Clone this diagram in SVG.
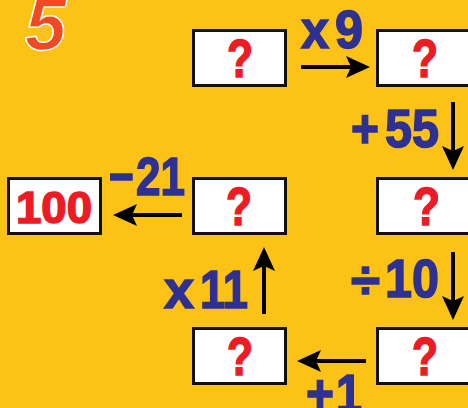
<svg xmlns="http://www.w3.org/2000/svg" width="468" height="408" viewBox="0 0 468 408">
<defs>
<style>
.box{fill:#fff;stroke:#111;stroke-width:3}
.q{font-family:"Liberation Sans",Arial,sans-serif;font-weight:bold;font-size:54px;fill:#ED1C24;stroke:#ED1C24;stroke-width:1.6}
.n{font-family:"Liberation Sans",Arial,sans-serif;font-weight:bold;font-size:45px;fill:#ED1C24;stroke:#ED1C24;stroke-width:1.6}
.op{font-family:"Liberation Sans",Arial,sans-serif;font-weight:bold;font-size:54px;fill:#2E3192;stroke:#2E3192;stroke-width:1.6}
.arr{stroke:#000;stroke-width:4;fill:none;marker-end:url(#ah)}
</style>
<marker id="ah" markerUnits="userSpaceOnUse" viewBox="0 0 24 24" markerWidth="24" markerHeight="24" refX="5" refY="12" orient="auto">
<path d="M0,1 L24,12 L0,23 L5,12 Z" fill="#000"/>
</marker>
</defs>
<rect width="468" height="408" fill="#FCC216"/>
<text x="25" y="50" font-family="Liberation Sans,Arial,sans-serif" font-weight="bold" font-style="italic" font-size="74" fill="#EF4A23" stroke="#fff" stroke-width="1.5">5</text>

<g id="box1"><rect class="box" x="193.5" y="30.5" width="92" height="55"/><text class="q" x="227" y="77" textLength="26" lengthAdjust="spacingAndGlyphs">?</text></g>
<g id="box2"><rect class="box" x="377.5" y="30.5" width="92" height="55"/><text class="q" x="412" y="77" textLength="26" lengthAdjust="spacingAndGlyphs">?</text></g>
<g id="box3"><rect class="box" x="377.5" y="178.5" width="92" height="55"/><text class="q" x="413" y="225" textLength="27" lengthAdjust="spacingAndGlyphs">?</text></g>
<g id="box4"><rect class="box" x="193.5" y="178.5" width="92" height="55"/><text class="q" x="226" y="225" textLength="26" lengthAdjust="spacingAndGlyphs">?</text></g>
<g id="box5"><rect class="box" x="8.5" y="178.5" width="92" height="55"/><text class="n" x="16" y="223" textLength="76" lengthAdjust="spacingAndGlyphs">100</text></g>
<g id="box6"><rect class="box" x="193.5" y="328.5" width="92" height="55"/><text class="q" x="227" y="375" textLength="26" lengthAdjust="spacingAndGlyphs">?</text></g>
<g id="box7"><rect class="box" x="377.5" y="328.5" width="92" height="55"/><text class="q" x="412" y="375" textLength="26" lengthAdjust="spacingAndGlyphs">?</text></g>

<g id="connectors">
<line class="arr" x1="301" y1="67" x2="351" y2="67"/>
<line class="arr" x1="453" y1="102" x2="453" y2="151"/>
<line class="arr" x1="453" y1="252" x2="453" y2="301"/>
<line class="arr" x1="366" y1="361" x2="316" y2="361"/>
<line class="arr" x1="264" y1="314" x2="264" y2="266"/>
<line class="arr" x1="182" y1="215" x2="132" y2="215"/>
</g>

<g id="labels">
<text class="op" x="301" y="48" textLength="28" lengthAdjust="spacingAndGlyphs">x</text>
<text class="op" x="335" y="48" textLength="28" lengthAdjust="spacingAndGlyphs">9</text>
<text class="op" x="351" y="147" textLength="28" lengthAdjust="spacingAndGlyphs">+</text>
<text class="op" x="385" y="147" textLength="54" lengthAdjust="spacingAndGlyphs">55</text>
<text class="op" x="109" y="195" textLength="25" lengthAdjust="spacingAndGlyphs">−</text>
<text class="op" x="136" y="195" textLength="49" lengthAdjust="spacingAndGlyphs">21</text>
<text class="op" x="164" y="308" textLength="30" lengthAdjust="spacingAndGlyphs">x</text>
<text class="op" x="200" y="308" textLength="48" lengthAdjust="spacingAndGlyphs">11</text>
<text class="op" x="351" y="298" textLength="29" lengthAdjust="spacingAndGlyphs">÷</text>
<text class="op" x="385" y="297" textLength="54" lengthAdjust="spacingAndGlyphs">10</text>
<text class="op" x="306" y="412" textLength="28" lengthAdjust="spacingAndGlyphs">+</text>
<text class="op" x="336" y="412" textLength="26" lengthAdjust="spacingAndGlyphs">1</text>
</g>
</svg>
